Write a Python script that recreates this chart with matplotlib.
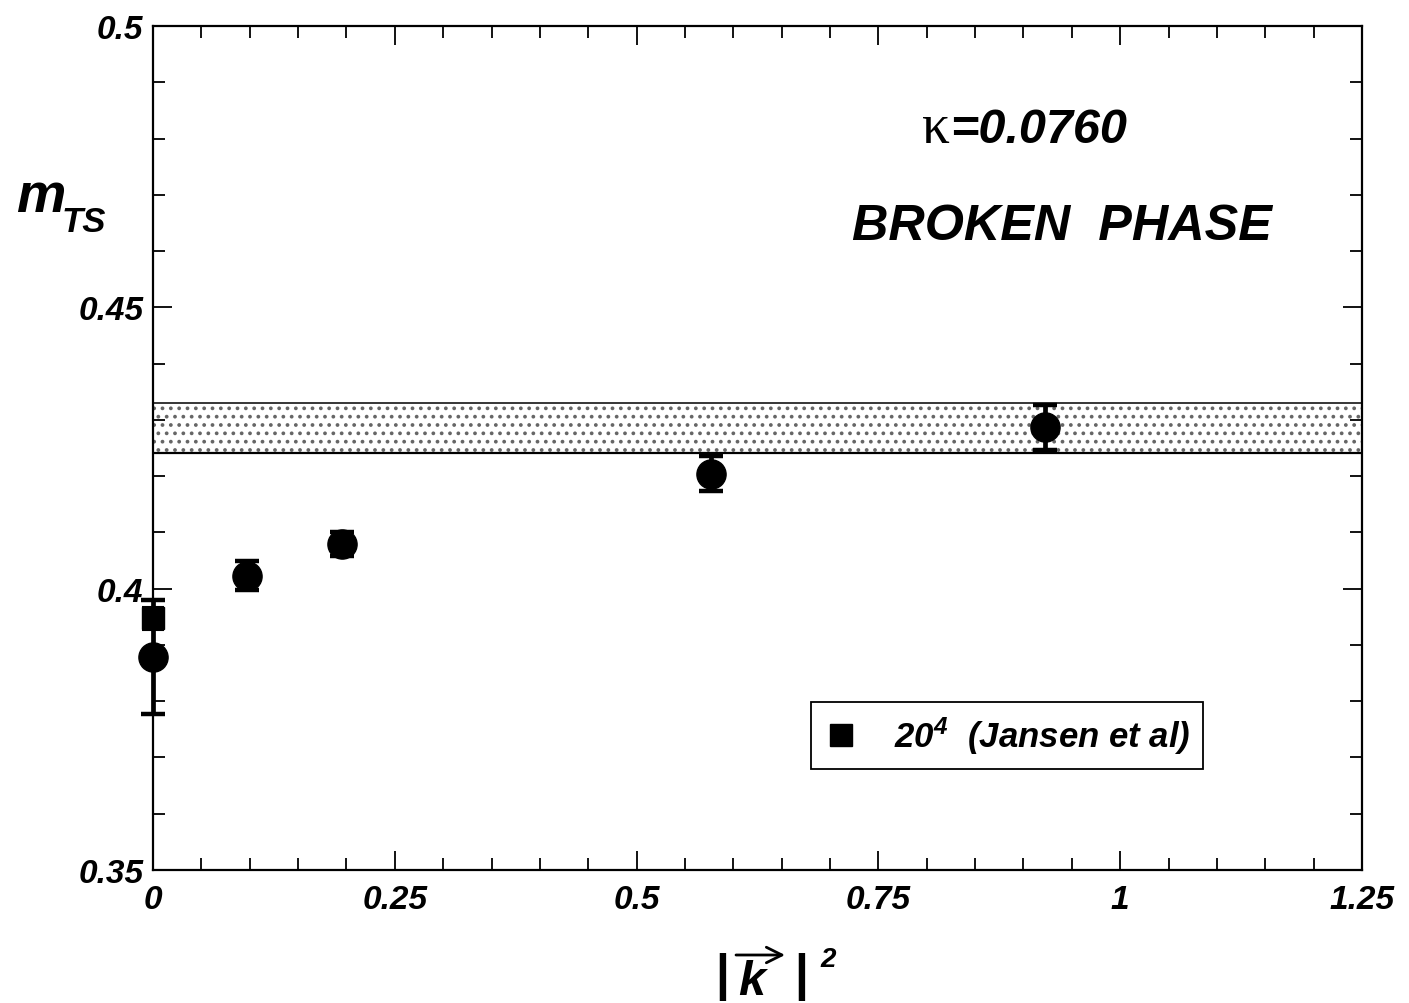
import matplotlib.pyplot as plt
from matplotlib.lines import Line2D
from matplotlib.ticker import MultipleLocator

# momentum squared and triplet-singlet mass, with errors
k2 = [0.0, 0.0972, 0.1954, 0.577, 0.922]
m_ts = [0.3879, 0.4023, 0.4079, 0.4204, 0.4287]
m_err = [0.0101, 0.0026, 0.0021, 0.0031, 0.0040]

# 20^4 point (Jansen et al)
jansen_k2 = [0.0]
jansen_m = [0.3947]
jansen_err = [0.0020]

# band
band_lo = 0.4241
band_hi = 0.4330

plt.rcParams['font.family'] = ['Liberation Sans', 'DejaVu Sans']
plt.rcParams['font.weight'] = 'bold'
plt.rcParams['font.style'] = 'italic'
plt.rcParams['mathtext.fontset'] = 'custom'
plt.rcParams['mathtext.rm'] = 'Liberation Sans:italic:bold'
plt.rcParams['mathtext.it'] = 'Liberation Sans:italic:bold'
plt.rcParams['hatch.linewidth'] = 1.5
plt.rcParams['hatch.color'] = '0.4'

W, H = 1409, 1004
fig = plt.figure(figsize=(W / 100, H / 100), dpi=100)
ax = fig.add_axes([153 / W, 1 - 871 / H, 1209 / W, 844 / H])

ax.axhspan(band_lo, band_hi, facecolor='white', edgecolor='0.4',
           hatch='..', lw=0, zorder=1)
ax.axhline(band_lo, color='black', lw=1.6, zorder=2)
ax.axhline(band_hi, color='black', lw=1.1, zorder=2)

ax.errorbar(k2, m_ts, yerr=m_err, fmt='o', color='black', ms=21,
            elinewidth=3.4, capsize=8.5, capthick=3.2, zorder=4,
            clip_on=False)
ax.errorbar(jansen_k2, jansen_m, yerr=jansen_err, fmt='s', color='black',
            ms=16, elinewidth=2, capsize=8, capthick=1.5, zorder=5,
            clip_on=False)

ax.set_xlim(0, 1.25)
ax.set_ylim(0.35, 0.5)
ax.xaxis.set_major_locator(MultipleLocator(0.25))
ax.xaxis.set_minor_locator(MultipleLocator(0.05))
ax.yaxis.set_major_locator(MultipleLocator(0.05))
ax.yaxis.set_minor_locator(MultipleLocator(0.01))
ax.set_xticks([0, 0.25, 0.5, 0.75, 1, 1.25])
ax.set_xticklabels(['0', '0.25', '0.5', '0.75', '1', '1.25'])
ax.set_yticks([0.35, 0.4, 0.45, 0.5])
ax.set_yticklabels(['0.35', '0.4', '0.45', '0.5'])
ax.tick_params(which='both', direction='in', top=True, right=True,
               width=1.3, labelsize=24)
ax.tick_params(which='major', length=14)
ax.tick_params(which='minor', length=8.5)
ax.tick_params(axis='x', pad=10)
ax.tick_params(axis='y', pad=7)
for s in ax.spines.values():
    s.set_linewidth(1.6)

# annotations
ax.text(0.636, 0.8626, 'κ', transform=ax.transAxes, fontsize=40,
        family='Liberation Serif', style='normal', weight='normal',
        ha='left', va='baseline')
ax.text(0.659, 0.8626, '=0.0760', transform=ax.transAxes, fontsize=35,
        ha='left', va='baseline')
ax.text(0.578, 0.7476, 'BROKEN  PHASE', transform=ax.transAxes, fontsize=36.3,
        ha='left', va='baseline')

handle = Line2D([], [], marker='s', color='black', ls='none', ms=16)
ax.legend([handle], ['20$^{4}$  (Jansen et al)'], loc='upper left',
          bbox_to_anchor=(0.544, 0.199), borderaxespad=0, fontsize=25,
          frameon=True, fancybox=False, framealpha=1, edgecolor='black',
          handlelength=1.0, handletextpad=1.05, borderpad=0.36)
ax.get_legend().get_frame().set_linewidth(1.3)

# y label m_TS
fig.text(16 / W, 1 - 212 / H, 'm', fontsize=40, ha='left', va='baseline')
fig.text(62 / W, 1 - 232 / H, 'TS', fontsize=25, ha='left', va='baseline')

# x label |k|^2 with vector arrow
fig.text(722 / W, 1 - 977 / H, '|', fontsize=36, style='normal',
         ha='center', va='center')
fig.text(801 / W, 1 - 977 / H, '|', fontsize=36, style='normal',
         ha='center', va='center')
fig.text(738 / W, 1 - 995 / H, 'k', fontsize=35, ha='left', va='baseline')
fig.text(820 / W, 1 - 967 / H, '2', fontsize=20, ha='left', va='baseline')
ax.annotate('', xy=(785 / W, 1 - 956 / H), xytext=(736 / W, 1 - 956 / H),
            xycoords='figure fraction', textcoords='figure fraction',
            arrowprops=dict(arrowstyle='->', lw=2, color='black',
                            mutation_scale=28, shrinkA=0, shrinkB=0),
            annotation_clip=False)

fig.savefig('out.png', dpi=100)
